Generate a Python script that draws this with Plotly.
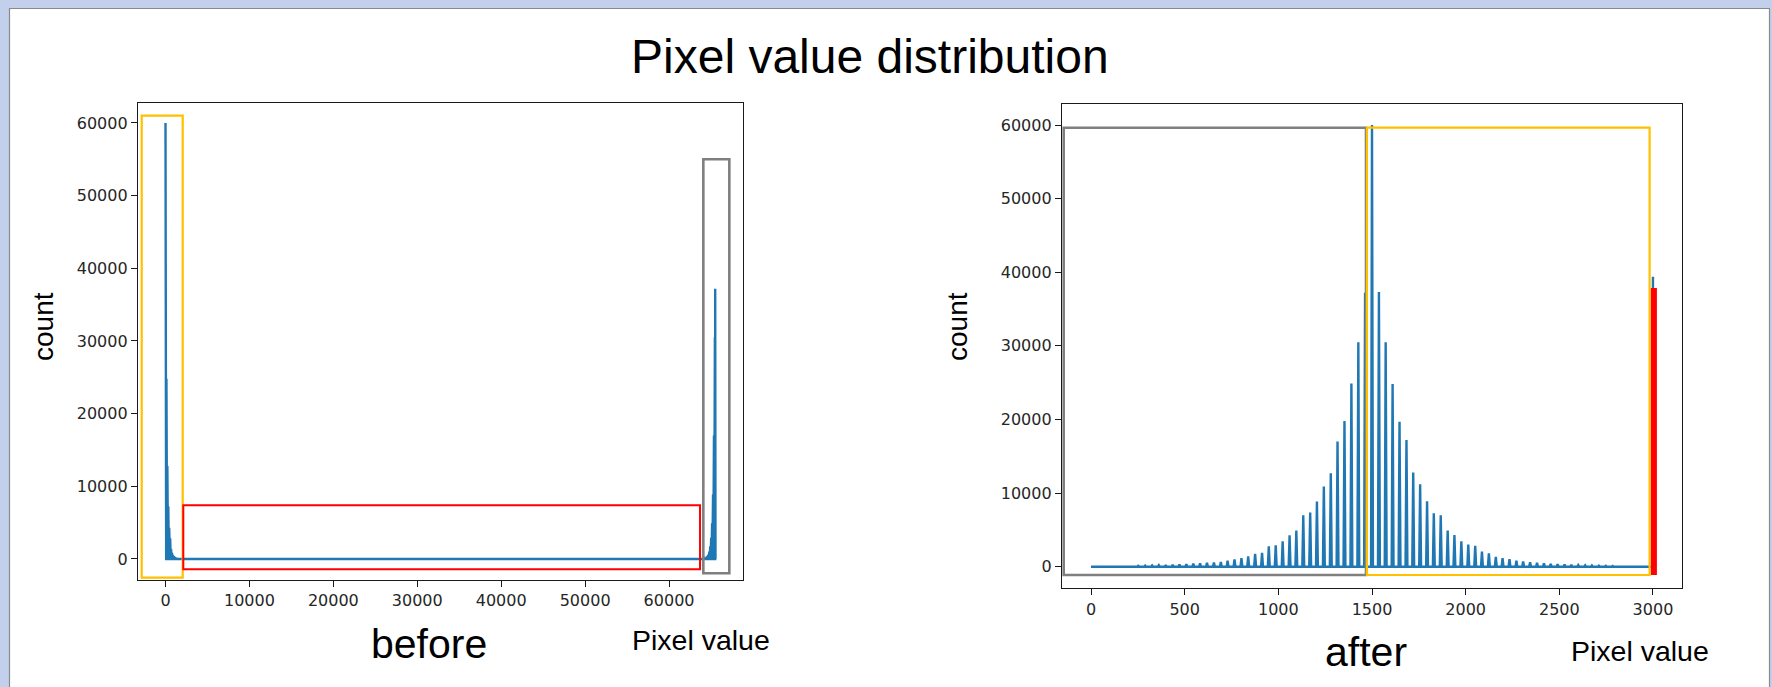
import plotly.graph_objects as go

W, H = 1772, 687

# ---------------- data ----------------
# distance of each histogram spike from the central value, in pixel-value units
spike_offsets = [0, 37, 73, 110, 147, 184, 220, 257, 294, 330, 367, 404, 440, 477,
                 514, 551, 587, 624, 661, 697, 734, 771, 807, 844, 881, 918, 954,
                 991, 1028, 1064, 1101, 1138, 1174, 1211, 1248, 1285, 1321, 1358,
                 1395, 1431, 1468]
# counts of the spikes above the centre (k = 0 .. 40)
counts_pos = [60000, 37300, 30500, 24800, 19700, 17200, 12800, 11200, 8900, 7250,
              7000, 4900, 4300, 3450, 3000, 2850, 2050, 1800, 1350, 1180, 1030,
              820, 720, 600, 520, 460, 400, 350, 300, 260, 220, 190, 160, 135,
              115, 95, 80, 65, 50, 40, 30]
# counts of the spikes below the centre (k = 1 .. 40)
counts_neg = [37200, 30500, 24900, 19800, 17000, 12700, 10900, 8850, 7350, 7000,
              4900, 4250, 3450, 2900, 2780, 1900, 1750, 1400, 1180, 1000, 830,
              640, 580, 520, 460, 410, 360, 310, 270, 235, 200, 170, 145, 120,
              100, 85, 70, 55, 40, 30]

before_max = 65535          # last pixel value of the "before" histogram
before_wrap = 65536         # negative values wrap round to the top of uint16
after_centre = 1500         # centre of the "after" histogram
after_max = 3000            # last pixel value of the "after" histogram
after_clip_count = 39400    # pile-up at the top value of the "after" histogram
spike_halfwidth = 5         # half base width of one histogram spike

x_ticks_before = [0, 10000, 20000, 30000, 40000, 50000, 60000]
x_ticks_after = [0, 500, 1000, 1500, 2000, 2500, 3000]
y_ticks = [0, 10000, 20000, 30000, 40000, 50000, 60000]

title_text = "Pixel value distribution"
y_label = "count"
x_label = "Pixel value"
left_caption = "before"
right_caption = "after"

# ---------------- build the histogram lines ----------------
hw = spike_halfwidth
bx, by = [], []
for k, (off, c) in enumerate(zip(spike_offsets, counts_pos)):
    if k == 0:
        bx += [off, off + hw]
        by += [c, 0]
    else:
        bx += [off - hw, off, off + hw]
        by += [0, c, 0]
for off, c in reversed(list(zip(spike_offsets[1:], counts_neg))):
    p = before_wrap - off
    bx += [p - hw, p, p + hw]
    by += [0, c, 0]
bx.append(before_max)
by.append(0)

ax, ay = [0], [0]
for off, c in reversed(list(zip(spike_offsets[1:], counts_neg))):
    p = after_centre - off
    ax += [p - hw, p, p + hw]
    ay += [0, c, 0]
for off, c in zip(spike_offsets, counts_pos):
    p = after_centre + off
    ax += [p - hw, p, p + hw]
    ay += [0, c, 0]
ax += [after_max - hw, after_max]
ay += [0, after_clip_count]

LINE = "#1f77b4"
fig = go.Figure()
fig.add_trace(go.Scatter(x=bx, y=by, mode="lines", line=dict(color=LINE, width=2.4),
                         xaxis="x", yaxis="y", showlegend=False, hoverinfo="skip"))
fig.add_trace(go.Scatter(x=ax, y=ay, mode="lines", line=dict(color=LINE, width=2.4),
                         xaxis="x2", yaxis="y2", showlegend=False, hoverinfo="skip"))

tickfont = dict(family="DejaVu Sans", size=16, color="#262626")
spine = dict(showline=True, linecolor="#1a1a1a", linewidth=1.3, mirror=True,
             ticks="outside", ticklen=6, tickwidth=1.2, tickcolor="#1a1a1a",
             showgrid=False, zeroline=False, tickfont=tickfont, tickformat="d")


def px(x):
    return x / W


def py(y):
    return 1 - y / H


fig.update_layout(
    width=W, height=H, margin=dict(l=0, r=0, t=0, b=0),
    paper_bgcolor="#c3d0ec", plot_bgcolor="rgba(0,0,0,0)",
    xaxis=dict(domain=[px(138), px(743)], range=[-3277, 68812],
               tickvals=x_ticks_before, anchor="y", **spine),
    yaxis=dict(domain=[py(580), py(103)], range=[-2900, 62750],
               tickvals=y_ticks, anchor="x", **spine),
    xaxis2=dict(domain=[px(1062), px(1682)], range=[-155, 3155],
                tickvals=x_ticks_after, anchor="y2", **spine),
    yaxis2=dict(domain=[py(588.3), py(104)], range=[-2934, 62853],
                tickvals=y_ticks, anchor="x2", **spine),
)

shapes = [
    # white slide panel
    dict(type="rect", xref="paper", yref="paper", x0=px(9.5), x1=px(1769.5),
         y0=py(700), y1=py(8.5), fillcolor="white",
         line=dict(color="#8a8a8a", width=1.2), layer="below"),
    # left panel boxes
    dict(type="rect", xref="x", yref="y", x0=-2836, x1=2050, y0=-2583, y1=61003,
         line=dict(color="#FFC000", width=2.2), layer="above"),
    dict(type="rect", xref="x", yref="y", x0=2121, x1=63692, y0=-1427, y1=7381,
         line=dict(color="#FF0000", width=2), layer="above"),
    dict(type="rect", xref="x", yref="y", x0=64085, x1=67183, y0=-1978, y1=55001,
         line=dict(color="#7F7F7F", width=2.6), layer="above"),
    # right panel boxes
    dict(type="rect", xref="x2", yref="y2", x0=-146, x1=1468, y0=-1127, y1=59634,
         line=dict(color="#7F7F7F", width=2.6), layer="above"),
    dict(type="rect", xref="x2", yref="y2", x0=1473, x1=2982, y0=-1127, y1=59634,
         line=dict(color="#FFC000", width=2.2), layer="above"),
    dict(type="rect", xref="x2", yref="y2", x0=2989, x1=3021, y0=-1127, y1=37859,
         fillcolor="#FF0000", line=dict(width=0), layer="above"),
]
fig.update_layout(shapes=shapes)

TXT = "Liberation Sans, Arial, sans-serif"


def note(text, x, y, size, angle=0):
    fig.add_annotation(text=text, xref="paper", yref="paper", x=px(x), y=py(y),
                       xanchor="center", yanchor="middle", showarrow=False,
                       textangle=angle, font=dict(family=TXT, size=size, color="black"))


note(title_text, 870, 57, 48)
note(y_label, 43, 327, 28, -90)
note(y_label, 957, 327, 28, -90)
note(left_caption, 429, 644, 41)
note(right_caption, 1366, 652, 41)
note(x_label, 701, 640, 28.5)
note(x_label, 1640, 651, 28.5)

fig.write_html("out.html", config=dict(displayModeBar=False))
